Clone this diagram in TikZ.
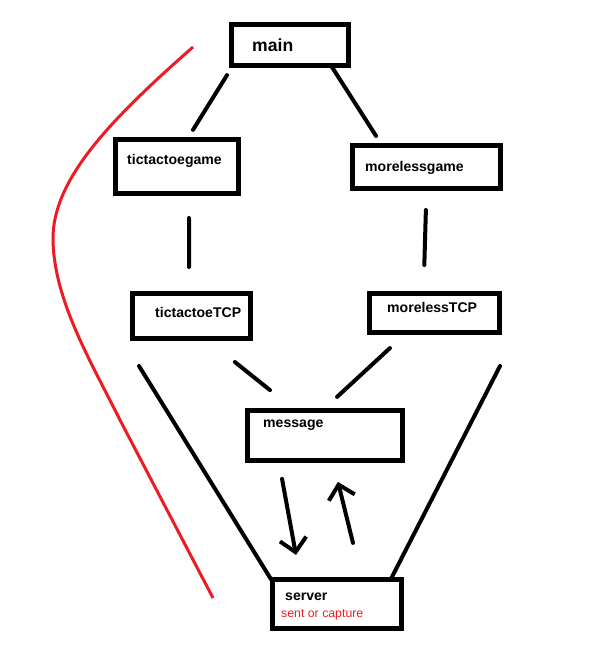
\documentclass[tikz,border=0pt]{standalone}
\usepackage{fontspec}
\setmainfont{Liberation Sans}
\usepackage{xcolor}
\definecolor{paintred}{HTML}{ED1C24}
\usetikzlibrary{arrows.meta, calc}
\tikzset{%
    box/.style={%
        draw, line width=1.5mm, outer sep=0, inner sep=0
    },
    boxtext/.style={%
        anchor=west, inner sep=0, font=\bfseries\fontsize{12}{14}\selectfont
    },
}

\begin{document}
\begin{tikzpicture}[
        x=0.3mm, y=-0.3mm,
        link/.style={line width=1.2mm, line cap=round},
        arr/.style={link, -{Straight Barb[length=4mm, width=8mm]}},
    ]
    \useasboundingbox (0,0) rectangle (615,652);

    % boxes
    \node[box, minimum width=35.1mm, minimum height=12.3mm] (main) at (290,45) {};
    \node[box, minimum width=36.9mm, minimum height=16.2mm] (tgame) at (177,166.5) {};
    \node[box, minimum width=44.4mm, minimum height=12.9mm] (mgame) at (426.5,167) {};
    \node[box, minimum width=35.4mm, minimum height=13.5mm] (ttcp) at (191.5,316) {};
    \node[box, minimum width=39mm, minimum height=11.7mm] (mtcp) at (434.5,313) {};
    \node[box, minimum width=46.5mm, minimum height=15mm] (msg) at (325,435.5) {};
    \node[box, minimum width=38.7mm, minimum height=14.7mm] (server) at (337,604) {};

    % texts
    \node[boxtext, font=\bfseries\fontsize{15}{18}\selectfont] (maintext) at (252,45) {main};
    \node[boxtext] (tgametext) at (127,161) {tictactoegame};
    \node[boxtext] (mgametext) at (365,168) {morelessgame};
    \node[boxtext] (ttcptext) at (155,312) {tictactoeTCP};
    \node[boxtext] (mtcptext) at (387,307) {morelessTCP};
    \node[boxtext] (msgtext) at (263,425) {message};
    \node[boxtext] (servertext) at (285,597) {server};
    \node[boxtext, font=\fontsize{10.5}{12}\selectfont, text=paintred] (capture) at (281,615) {sent or capture};

    % connectors
    \draw[link, shorten <=3.4mm, shorten >=3.4mm] ([xshift=0.45mm]main.south west) -- ([xshift=3mm]tgame.north);
    \draw[link, shorten <=0.5mm, shorten >=3.4mm] ([xshift=-5.25mm]main.south east) -- ([xshift=8.9mm]mgame.north west);
    \draw[link, shorten <=7.35mm, shorten >=7.95mm] ([xshift=3.6mm]tgame.south) -- ([xshift=-0.75mm]ttcp.north);
    \draw[link, shorten <=6.45mm, shorten >=8.55mm] (mgame.south) -- ([xshift=-3.3mm]mtcp.north);
    \draw[link, shorten <=11.3mm, shorten >=9.8mm] ([xshift=4.2mm]ttcp.south) -- ([xshift=14.4mm]msg.north west);
    \draw[link, shorten <=6.9mm, shorten >=6mm] ([xshift=-8.3mm]mtcp.south) -- ([xshift=-0.8mm]msg.north);
    \draw[link, shorten <=9.7mm] ([xshift=-3.15mm]ttcp.south west) -- ([xshift=-0.4mm]server.north west);
    \draw[link, shorten <=11.3mm] ([xshift=5.3mm]mtcp.south east) -- ([xshift=-3.25mm]server.north east);
    \draw[arr, shorten <=5.6mm, shorten >=7.5mm] ([xshift=-13.9mm]msg.south) -- ([xshift=-10.95mm]server.north);
    \draw[arr, shorten <=11.3mm, shorten >=6.6mm] ([xshift=7.5mm]server.north) -- ([xshift=2.3mm]msg.south);

    % red curve
    \draw[paintred, line width=0.9mm] (193,47) .. controls (110,120) and (52,180) .. (53,240)
        .. controls (54,300) and (90,360) .. (120,420) -- (213,598);
\end{tikzpicture}
\end{document}
